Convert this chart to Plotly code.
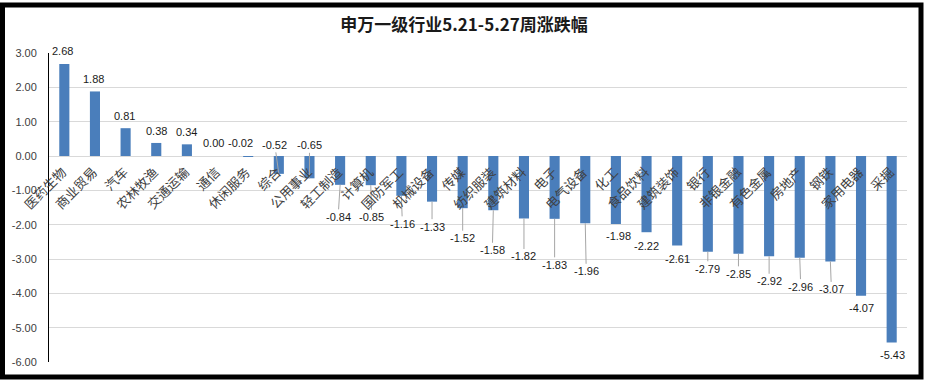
import plotly.graph_objects as go

categories = ["医药生物", "商业贸易", "汽车", "农林牧渔", "交通运输", "通信", "休闲服务",
              "综合", "公用事业", "轻工制造", "计算机", "国防军工", "机械设备", "传媒",
              "纺织服装", "建筑材料", "电子", "电气设备", "化工", "食品饮料", "建筑装饰",
              "银行", "非银金融", "有色金属", "房地产", "钢铁", "家用电器", "采掘"]
values = [2.68, 1.88, 0.81, 0.38, 0.34, 0.00, -0.02, -0.52, -0.65, -0.84, -0.85, -1.16,
          -1.33, -1.52, -1.58, -1.82, -1.83, -1.96, -1.98, -2.22, -2.61, -2.79, -2.85,
          -2.92, -2.96, -3.07, -4.07, -5.43]
tick_values = [3, 2, 1, 0, -1, -2, -3, -4, -5, -6]
tick_labels = ["3.00", "2.00", "1.00", "0.00", "-1.00", "-2.00", "-3.00", "-4.00", "-5.00", "-6.00"]
title_text = "申万一级行业5.21-5.27周涨跌幅"

# data-label offsets in pixels from the bar end (dx, dy; dy positive = downward), leader flag
label_offsets = [(-2, -13, False), (-1, -12, False), (-1, -12, False), (0, -12, False),
                 (0, -12, False), (-4, -13, False), (-8, -14, False), (-4, -29, True),
                 (0, -33, True), (-2, 32, True), (1, 32, True), (1, 28, True),
                 (0, 25, True), (0, 30, True), (-1, 40, True), (0, 38, True),
                 (0, 46, True), (1, 48, True), (3, 12, False), (0, 14, False),
                 (0, 13, False), (0, 17, True), (0, 20, True), (0, 25, True),
                 (1, 29, True), (1, 28, True), (0, 12, False), (1, 13, False)]

W, H = 928, 382
ML, MR, MT, MB = 49, 21, 53, 20
PW, PH = W - ML - MR, H - MT - MB

fig = go.Figure()
fig.add_trace(go.Bar(x=categories, y=values, marker=dict(color="#4a7ebb", line=dict(width=0)),
                     hoverinfo="x+y"))

annotations = []
label_font = dict(family="Liberation Sans, Arial, sans-serif", size=11, color="#1a1a1a")
for cat, v, (dx, dy, leader) in zip(categories, values, label_offsets):
    txt = f"{v:.2f}"
    if leader:
        annotations.append(dict(x=cat, y=v, xref="x", yref="y", text=txt, showarrow=True,
                                ax=dx, ay=dy, arrowhead=0, arrowwidth=1, arrowcolor="#a6a6a6",
                                standoff=0, font=label_font))
    else:
        annotations.append(dict(x=cat, y=v, xref="x", yref="y", text=txt, showarrow=False,
                                xshift=dx, yshift=-dy, xanchor="center", yanchor="middle",
                                font=label_font))

cat_font = dict(family="Noto Sans CJK SC, sans-serif", size=13, color="#404040")
for cat in categories:
    annotations.append(dict(x=cat, y=0, xref="x", yref="y", text=cat, showarrow=False,
                            textangle=-45, xanchor="right", yanchor="top",
                            xshift=9, yshift=-4, font=cat_font))

def px_x(p):
    return (p - ML) / PW

def px_y(p):
    return (H - MB - p) / PH

fig.update_layout(
    width=W, height=H,
    margin=dict(l=ML, r=MR, t=MT, b=MB, autoexpand=False),
    paper_bgcolor="white", plot_bgcolor="white",
    showlegend=False,
    bargap=0.67,
    title=dict(text=title_text, x=0.5, xanchor="center", y=1 - 25 / H, yanchor="middle",
               font=dict(family="Noto Sans CJK SC, sans-serif", size=17, color="#1a1a1a",
                         weight="bold")),
    xaxis=dict(range=[-0.5, len(categories) - 0.5], autorange=False,
               showticklabels=False, showgrid=False, zeroline=False, showline=False,
               ticks=""),
    yaxis=dict(range=[-6, 3], autorange=False, tickvals=tick_values, ticktext=tick_labels,
               showgrid=True, gridcolor="#d9d9d9", gridwidth=1,
               zeroline=True, zerolinecolor="#d9d9d9", zerolinewidth=1,
               showline=True, linecolor="#000000", linewidth=1,
               ticks="", ticklabelstandoff=9,
               tickfont=dict(family="Liberation Sans, Arial, sans-serif", size=11,
                             color="#404040")),
    annotations=annotations,
    shapes=[dict(type="rect", xref="paper", yref="paper",
                 x0=px_x(2.5), x1=px_x(921), y0=px_y(377), y1=px_y(5),
                 line=dict(color="#000000", width=5), fillcolor="rgba(0,0,0,0)",
                 layer="above")],
)

fig.write_html("out.html", config={"displayModeBar": False},
               post_script="document.body.style.margin='0px';document.body.style.padding='0px';"
                           "document.body.style.overflow='hidden';")
